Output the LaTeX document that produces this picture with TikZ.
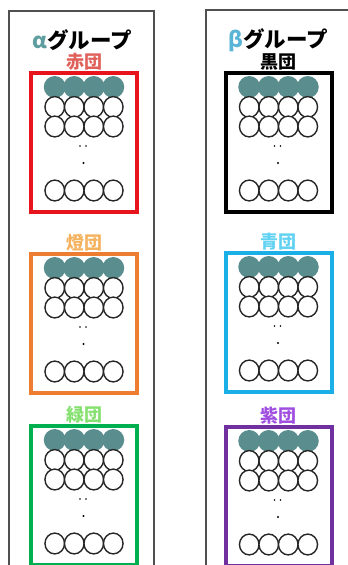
\documentclass[tikz,border=0pt]{standalone}
\usepackage{fontspec}
\setmainfont{Noto Sans CJK JP}
\usepackage{tikz}
\usetikzlibrary{positioning}

\definecolor{frame}{HTML}{505050}
\definecolor{seatfill}{HTML}{5A8E8E}
\definecolor{alphacol}{HTML}{5F9EA0}
\definecolor{betacol}{HTML}{5AB4D6}
\definecolor{akabox}{HTML}{E8141C}
\definecolor{toubox}{HTML}{ED7D31}
\definecolor{midoribox}{HTML}{00B050}
\definecolor{kurobox}{HTML}{000000}
\definecolor{aobox}{HTML}{1AAFE6}
\definecolor{murasakibox}{HTML}{7030A0}
\definecolor{akatext}{HTML}{E0605A}
\definecolor{toutext}{HTML}{F4B25E}
\definecolor{midoritext}{HTML}{86E070}
\definecolor{aotext}{HTML}{62D2F2}
\definecolor{murasakitext}{HTML}{A04EE0}

\begin{document}
\begin{tikzpicture}[
  x=1pt, y=-1pt,
  node distance=0.5pt,
  panel/.style={draw=frame, line width=1.3pt, minimum width=#1, minimum height=590pt,
                inner sep=0pt},
  team/.style={draw=#1, line width=4pt, minimum width=106pt, minimum height=139pt,
               inner sep=0pt},
  grouptitle/.style={font=\bfseries\fontsize{21.5}{21.5}\selectfont, inner sep=0pt},
  teamlabel/.style={text=#1, font=\bfseries\fontsize{18}{18}\selectfont, inner sep=0pt},
  seat/.style={draw=black!85, line width=1.4pt, fill=white},
  taken/.style={fill=seatfill}
]
\useasboundingbox (0,0) rectangle (348,565);
\clip (0,0) rectangle (348,565);

% two groups
\node[panel=145pt] (alpha) at (81.5,306) {};
\node[panel=155pt] (beta)  at (283.5,305) {};
\node[grouptitle] (alphatitle) at (82,40) {\textcolor{alphacol}{α}グループ};
\node[grouptitle] (betatitle)  at (278,40) {\textcolor{betacol}{β}グループ};

% teams
\node[team=akabox]      (aka)      at (84,142.5)  {};
\node[team=toubox]      (tou)      at (84,323.5)  {};
\node[team=midoribox]   (midori)   at (84,495.5)  {};
\node[team=kurobox]     (kuro)     at (278.5,142.5) {};
\node[team=aobox]       (ao)       at (278.5,322.5) {};
\node[team=murasakibox] (murasaki) at (278.5,496.5) {};

\node[teamlabel=akatext,      above=of aka]      (akalabel)      {赤団};
\node[teamlabel=toutext,      above=of tou]      (toulabel)      {燈団};
\node[teamlabel=midoritext,   above=of midori]   (midorilabel)   {緑団};
\node[teamlabel=black,        above=of kuro]     (kurolabel)     {黒団};
\node[teamlabel=aotext,       above=of ao]       (aolabel)       {青団};
\node[teamlabel=murasakitext, above=of murasaki] (murasakilabel) {紫団};

% seats in each team
\foreach \t in {aka,tou,midori,kuro,ao,murasaki} {
  \begin{scope}[shift={(\t.center)}]
    \foreach \x in {-29.25,-9.75,9.75,29.25}
      \fill[taken] (\x,-55.5) ellipse[x radius=11pt, y radius=11pt];
    \foreach \y in {-35.5,-16,48}
      \foreach \x in {-29.25,-9.75,9.75,29.25}
        \draw[seat] (\x,\y) ellipse[x radius=9.8pt, y radius=10.4pt];
    \fill (-4,3.5) circle (0.8pt);
    \fill (2,3.5) circle (0.8pt);
    \fill (-0.5,20.5) circle (1.2pt);
  \end{scope}
}
\end{tikzpicture}
\end{document}
